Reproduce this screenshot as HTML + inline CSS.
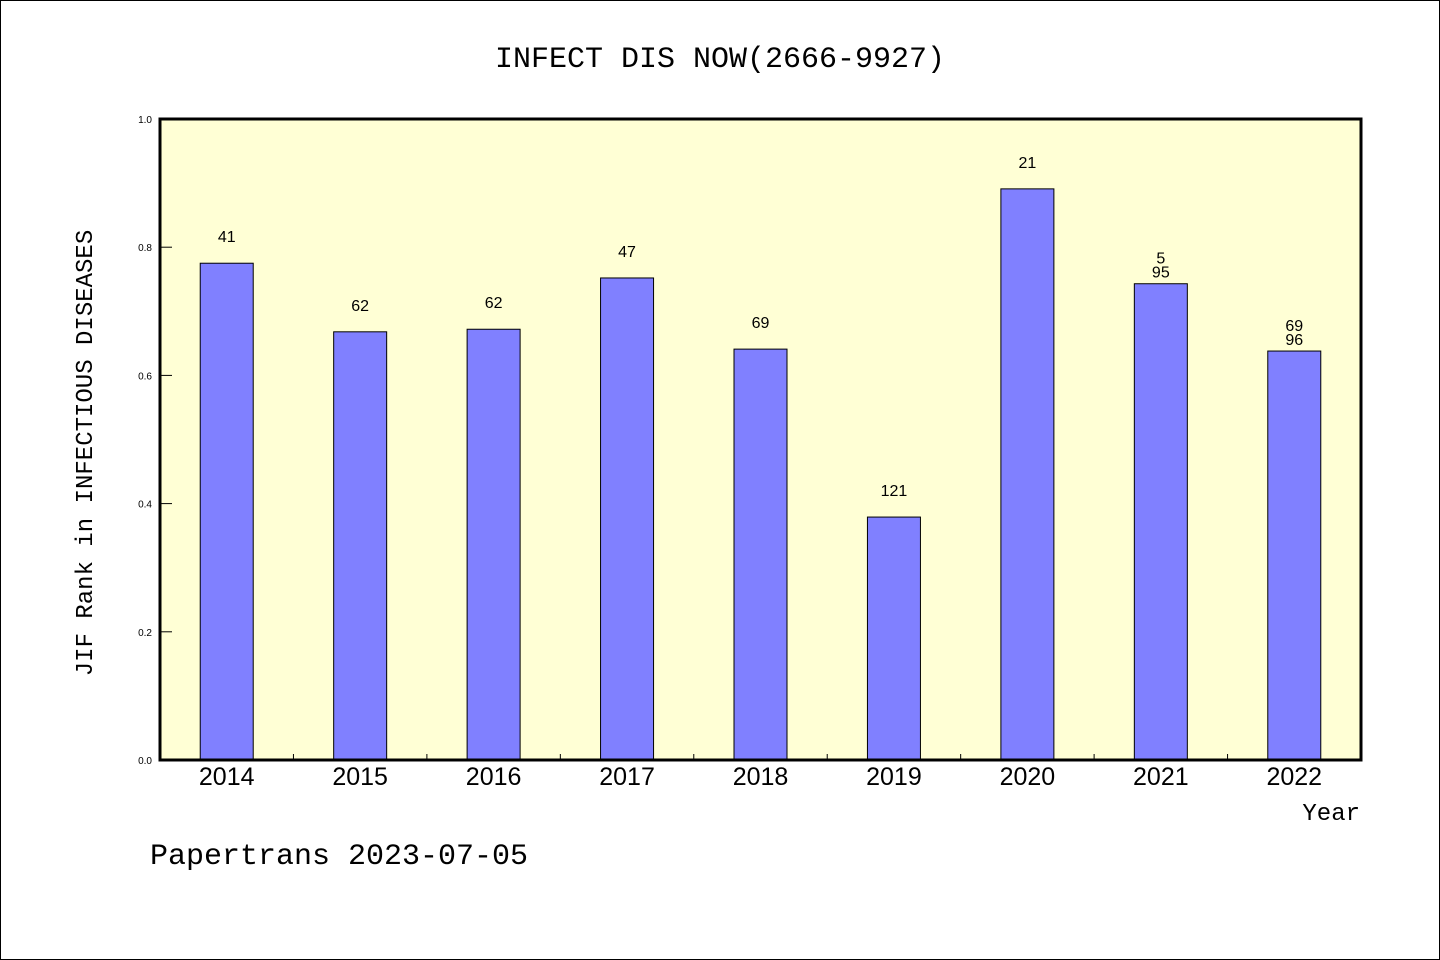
<!DOCTYPE html>
<html><head><meta charset="utf-8"><style>
html,body{margin:0;padding:0;background:#fff}
svg{display:block}
</style></head><body>
<svg id="chart" width="1440" height="960" xmlns="http://www.w3.org/2000/svg">
<rect x="0.5" y="0.5" width="1439" height="959" fill="#fff" stroke="#000"/>
<text x="720" y="67" text-anchor="middle" font-family="'Liberation Mono', monospace" font-size="30">INFECT DIS NOW(2666-9927)</text>
<rect x="160" y="119" width="1201" height="641" fill="#ffffd5"/>
<g id="bars"></g>
<g id="axes"></g>
<rect x="160" y="119" width="1201" height="641" fill="none" stroke="#000" stroke-width="3"/>
<text x="92" y="453" text-anchor="middle" transform="rotate(-90 92 453)" font-family="'Liberation Mono', monospace" font-size="24">JIF Rank in INFECTIOUS DISEASES</text>
<text x="1360" y="820" text-anchor="end" font-family="'Liberation Mono', monospace" font-size="24">Year</text>
<text x="150" y="864" font-family="'Liberation Mono', monospace" font-size="30">Papertrans 2023-07-05</text>
</svg>
<script>
const categories = ["2014","2015","2016","2017","2018","2019","2020","2021","2022"];
const values = [0.775,0.668,0.672,0.752,0.641,0.379,0.891,0.743,0.638];
const labelLine1 = ["41","62","62","47","69","121","21","5","69"];
const labelLine2 = ["","","","","","","","95","96"];
const yTicks = [0,0.2,0.4,0.6,0.8,1.0];
const yTickLabels = ["0.0","0.2","0.4","0.6","0.8","1.0"];

const NS="http://www.w3.org/2000/svg";
const X0=160,X1=1361,Y0=760,Y1=119;
const band=(X1-X0)/categories.length;
const xc=i=>X0+band*(i+0.5);
const y=v=>Y0-(Y0-Y1)*v;
function mk(tag,attrs,parent,txt){const e=document.createElementNS(NS,tag);for(const k in attrs)e.setAttribute(k,attrs[k]);if(txt!==undefined)e.textContent=txt;parent.appendChild(e);return e;}
const gb=document.getElementById('bars'), ga=document.getElementById('axes');
const bw=53;
categories.forEach((c,i)=>{
  const r=mk('rect',{x:xc(i)-bw/2,y:y(values[i]),width:bw,height:Y0-y(values[i]),fill:'#8080ff',stroke:'#000','stroke-width':1},gb);
  
  
  const two=labelLine2[i]!=="";
  const t1=mk('text',{x:xc(i),y:y(values[i])-(two?20:21),'text-anchor':'middle','font-family':"'Liberation Sans', sans-serif",'font-size':16},gb,labelLine1[i]);
  
  
  if(two){
    const t2=mk('text',{x:xc(i),y:y(values[i])-6,'text-anchor':'middle','font-family':"'Liberation Sans', sans-serif",'font-size':16},gb,labelLine2[i]);
    
    
  }
  const xl=mk('text',{x:xc(i),y:785,'text-anchor':'middle','font-family':"'Liberation Sans', sans-serif",'font-size':25},ga,c);
  
  
  if(i>0){
    const tk=mk('line',{x1:X0+band*i,x2:X0+band*i,y1:Y0,y2:Y0-6,stroke:'#000'},ga);
    
    
  }
});
yTicks.forEach((v,i)=>{
  const tk=mk('line',{x1:X0,x2:X0+12,y1:y(v),y2:y(v),stroke:'#000'},ga);
  
  
  const tl=mk('text',{x:152,y:y(v)+4,'text-anchor':'end','font-family':"'Liberation Sans', sans-serif",'font-size':10},ga,yTickLabels[i]);
  
  
});
</script>
</body></html>
